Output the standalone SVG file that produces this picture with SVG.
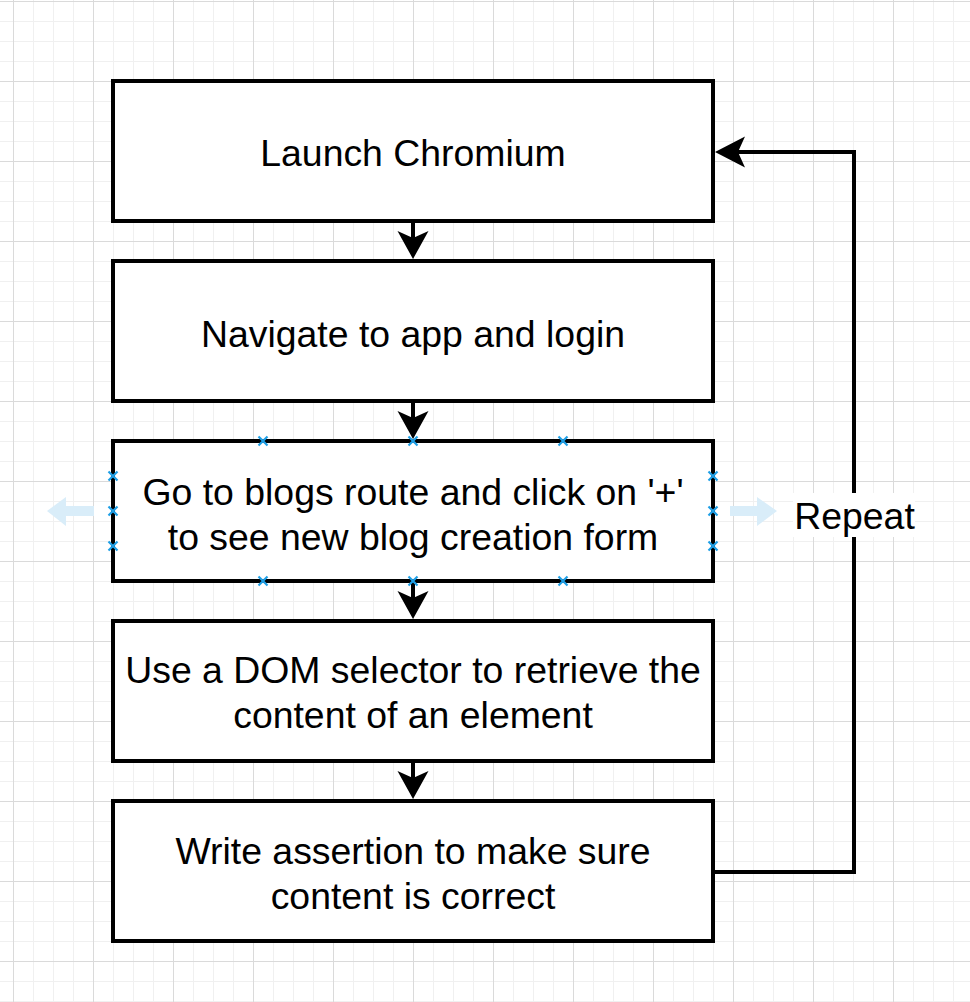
<svg xmlns="http://www.w3.org/2000/svg" width="970" height="1002" viewBox="0 0 970 1002">
<style>
.box{fill:#ffffff;stroke:#000000;stroke-width:4}
.lbl{font-family:"Liberation Sans",Arial,Helvetica,sans-serif;font-size:37.4px;fill:#000000;text-anchor:middle}
.edge{fill:none;stroke:#000000;stroke-width:4}
.head{fill:#000000;stroke:none}
.handle{stroke:#1f9fe6;stroke-width:2.2;fill:none}
.hover{fill:#d9edf9}
</style>
<defs>
<pattern id="grid" patternUnits="userSpaceOnUse" x="13" y="1" width="80" height="80">
<rect x="0" y="0" width="80" height="80" fill="#ffffff"/>
<rect x="20" y="0" width="1" height="80" fill="#f0f0f0"/>
<rect x="40" y="0" width="1" height="80" fill="#f0f0f0"/>
<rect x="60" y="0" width="1" height="80" fill="#f0f0f0"/>
<rect x="0" y="20" width="80" height="1" fill="#f0f0f0"/>
<rect x="0" y="40" width="80" height="1" fill="#f0f0f0"/>
<rect x="0" y="60" width="80" height="1" fill="#f0f0f0"/>
<rect x="0" y="0" width="1" height="80" fill="#dadada"/>
<rect x="0" y="0" width="80" height="1" fill="#dadada"/>
</pattern>
<path id="ahDown" d="M0,0 L-15.5,-28 L0,-21 L15.5,-28 Z"/>
</defs>
<rect x="0" y="0" width="970" height="1002" fill="url(#grid)"/>

<g id="connectors">
<line class="edge" x1="413" y1="221" x2="413" y2="250"/>
<use href="#ahDown" class="head" x="413" y="259"/>
<line class="edge" x1="413" y1="401" x2="413" y2="430"/>
<use href="#ahDown" class="head" x="413" y="439"/>
<line class="edge" x1="413" y1="581" x2="413" y2="610"/>
<use href="#ahDown" class="head" x="413" y="619"/>
<line class="edge" x1="413" y1="761" x2="413" y2="790"/>
<use href="#ahDown" class="head" x="413" y="799"/>
<path class="edge" d="M713,872 H854 V152 H735"/>
<path class="head" d="M715,152 L745,136.5 L738,152 L745,167.5 Z"/>
<g id="repeat-label">
<rect x="793" y="493" width="122" height="44" fill="#ffffff"/>
<text class="lbl" x="854.5" y="529">Repeat</text>
</g>
</g>

<g id="n1">
<rect class="box" x="113" y="81" width="600" height="140"/>
<text class="lbl" x="413" y="166">Launch Chromium</text>
</g>
<g id="n2">
<rect class="box" x="113" y="261" width="600" height="140"/>
<text class="lbl" x="413" y="347">Navigate to app and login</text>
</g>
<g id="n3">
<rect class="box" x="113" y="441" width="600" height="140"/>
<text class="lbl" x="413" y="505">Go to blogs route and click on '+'</text>
<text class="lbl" x="413" y="550">to see new blog creation form</text>
</g>
<g id="n4">
<rect class="box" x="113" y="621" width="600" height="140"/>
<text class="lbl" x="413" y="683">Use a DOM selector to retrieve the</text>
<text class="lbl" x="413" y="728">content of an element</text>
</g>
<g id="n5">
<rect class="box" x="113" y="801" width="600" height="140"/>
<text class="lbl" x="413" y="864">Write assertion to make sure</text>
<text class="lbl" x="413" y="909">content is correct</text>
</g>

<g id="selection">
<path class="handle" d="M258.5,436.5l9,9m0,-9l-9,9 M408.5,436.5l9,9m0,-9l-9,9 M558.5,436.5l9,9m0,-9l-9,9 M258.5,576.5l9,9m0,-9l-9,9 M408.5,576.5l9,9m0,-9l-9,9 M558.5,576.5l9,9m0,-9l-9,9 M108.5,471.5l9,9m0,-9l-9,9 M108.5,506.5l9,9m0,-9l-9,9 M108.5,541.5l9,9m0,-9l-9,9 M708.5,471.5l9,9m0,-9l-9,9 M708.5,506.5l9,9m0,-9l-9,9 M708.5,541.5l9,9m0,-9l-9,9"/>
<path class="hover" d="M47,511 L66,497 L66,506 L94,506 L94,516 L66,516 L66,526 Z"/>
<path class="hover" d="M777,511 L757,497 L757,506 L730,506 L730,516 L757,516 L757,526 Z"/>
</g>
</svg>
